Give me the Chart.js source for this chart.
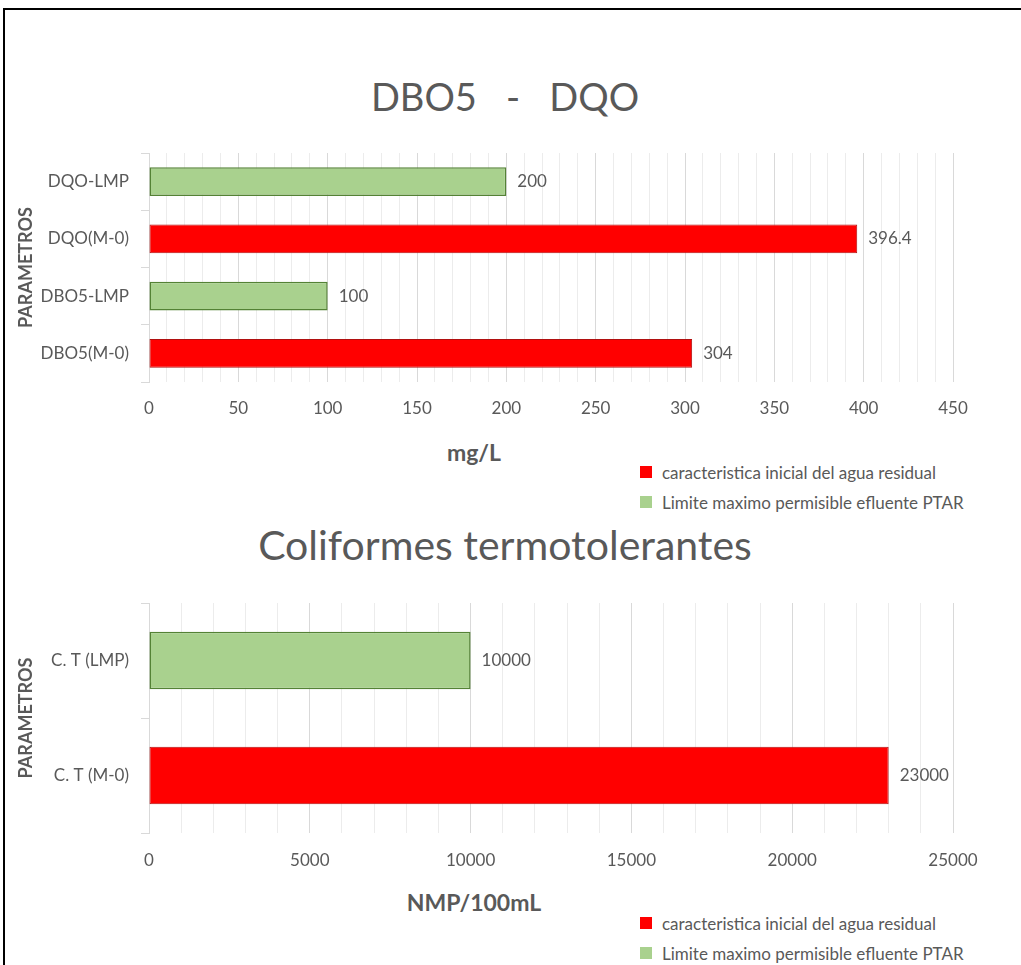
<!DOCTYPE html>
<html>
<head>
<meta charset="utf-8">
<script src="https://cdn.jsdelivr.net/npm/chart.js@4.4.1/dist/chart.umd.min.js"></script>
<style>
  body { margin: 0; width: 1021px; height: 965px; overflow: hidden; background: #fff; position: relative; font-family: Lato, sans-serif; color: #595959; }
  .frame { position: absolute; left: 3px; top: 8px; width: 1040px; height: 1000px; border-top: 2px solid #000; border-left: 2px solid #000; }
  .title { position: absolute; left: 0; width: 1010px; text-align: center; line-height: 1.2; white-space: pre; }
  .axis-title { position: absolute; left: 374px; width: 200px; text-align: center; font-weight: bold; font-size: 23px; line-height: 1.2; }
  .chart-box { position: absolute; left: 0; width: 1021px; }
  .legend { position: absolute; left: 640px; font-size: 17px; }
  .legend .row { height: 30px; display: flex; align-items: center; }
  .legend .sw { width: 12px; height: 12px; margin-right: 10px; }
</style>
</head>
<body>
<div class="frame"></div>

<div class="title" style="top:74px; font-size:38px;">DBO5   -   DQO</div>
<div class="chart-box" style="top:140px;"><canvas id="chart-dbo" width="1021" height="282"></canvas></div>
<div class="axis-title" style="top:439px;">mg/L</div>
<div class="legend" id="legend-dbo" style="top:457px;"></div>

<div class="title" style="top:520px; font-size:41px;">Coliformes termotolerantes</div>
<div class="chart-box" style="top:590px;"><canvas id="chart-ct" width="1021" height="283"></canvas></div>
<div class="axis-title" style="top:889px;">NMP/100mL</div>
<div class="legend" id="legend-ct" style="top:908px;"></div>

<script>
const seriesNames = ['caracteristica inicial del agua residual', 'Limite maximo permisible efluente PTAR'];

const dboCategories = ['DQO-LMP', 'DQO(M-0)', 'DBO5-LMP', 'DBO5(M-0)'];
const dboInicial = [null, 396.4, null, 304];
const dboLimite = [200, null, 100, null];
const dboTicks = [0, 50, 100, 150, 200, 250, 300, 350, 400, 450];

const ctCategories = ['C. T (LMP)', 'C. T (M-0)'];
const ctInicial = [null, 23000];
const ctLimite = [10000, null];
const ctTicks = [0, 5000, 10000, 15000, 20000, 25000];

const redFill = '#ff0000';
const redLine = '#b01010';
const greenFill = '#a9d18e';
const greenLine = '#548235';
const textColor = '#595959';

const valueLabels = {
  id: 'valueLabels',
  afterDatasetsDraw(chart) {
    const { ctx } = chart;
    ctx.save();
    ctx.font = '17px Lato';
    ctx.fillStyle = textColor;
    ctx.textAlign = 'left';
    ctx.textBaseline = 'middle';
    chart.data.datasets.forEach((dataset, i) => {
      chart.getDatasetMeta(i).data.forEach((bar, j) => {
        const value = dataset.data[j];
        if (value == null) return;
        ctx.fillText(String(value), bar.x + 11, bar.y);
      });
    });
    ctx.restore();
  },
};

function buildLegend(id) {
  const colors = [redFill, greenFill];
  document.getElementById(id).innerHTML = seriesNames
    .map((name, i) => `<div class="row"><span class="sw" style="background:${colors[i]}"></span>${name}</div>`)
    .join('');
}

function makeChart(canvasId, categories, inicial, limite, ticks, minorStep, tickPadding) {
  const tickFont = { family: 'Lato', size: 17 };

  return new Chart(document.getElementById(canvasId), {
    type: 'bar',
    data: {
      labels: categories,
      datasets: [
        {
          label: seriesNames[0],
          data: inicial,
          backgroundColor: redFill,
          borderColor: redLine,
          borderWidth: 1,
          borderSkipped: false,
        },
        {
          label: seriesNames[1],
          data: limite,
          backgroundColor: greenFill,
          borderColor: greenLine,
          borderWidth: 1.5,
          borderSkipped: false,
        },
      ],
    },
    options: {
      indexAxis: 'y',
      responsive: false,
      animation: false,
      devicePixelRatio: 1,
      categoryPercentage: 0.5,
      barPercentage: 1,
      layout: { padding: { left: 10, right: 68, top: 13, bottom: 0 } },
      plugins: {
        legend: { display: false },
        tooltip: { enabled: false },
      },
      scales: {
        x: {
          stacked: true,
          min: 0,
          max: ticks[ticks.length - 1],
          border: { display: false },
          grid: {
            drawTicks: false,
            lineWidth: 1,
            color: (c) => (ticks.includes(c.tick.value) ? '#d9d9d9' : '#ececec'),
          },
          ticks: {
            stepSize: minorStep,
            autoSkip: false,
            maxRotation: 0,
            color: textColor,
            font: tickFont,
            padding: tickPadding,
            callback: (value) => (ticks.includes(value) ? String(value) : ''),
          },
          afterFit: (scale) => {
            scale.height = 40;
          },
        },
        y: {
          stacked: true,
          border: { display: true, color: '#d9d9d9' },
          grid: { offset: true, drawOnChartArea: false, drawTicks: true, tickLength: 8, color: '#d9d9d9' },
          ticks: { color: textColor, font: tickFont, padding: 12 },
          title: {
            display: true,
            text: 'PARAMETROS',
            color: textColor,
            font: { family: 'Lato', size: 18, weight: 'bold' },
            padding: { top: 5, bottom: 0 },
          },
          afterFit: (scale) => {
            scale.width = 139;
            scale.paddingTop = 0;
            scale.paddingBottom = 0;
          },
        },
      },
    },
    plugins: [valueLabels],
  });
}

makeChart('chart-dbo', dboCategories, dboInicial, dboLimite, dboTicks, 10, 16);
makeChart('chart-ct', ctCategories, ctInicial, ctLimite, ctTicks, 1000, 17);
buildLegend('legend-dbo');
buildLegend('legend-ct');
</script>
</body>
</html>
